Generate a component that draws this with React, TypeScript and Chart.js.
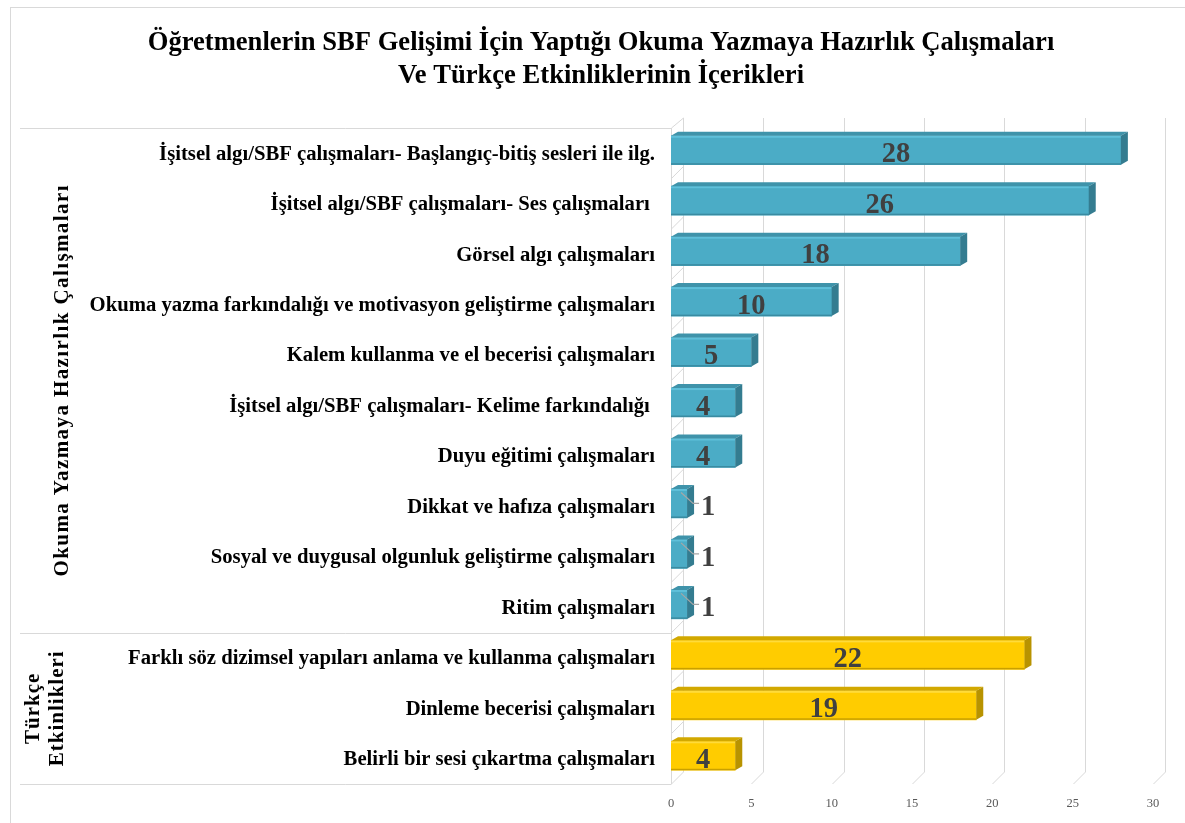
import React, { useEffect, useRef } from "react";
import { Chart, registerables } from "chart.js";

Chart.register(...registerables);

const titleLines = [
  "Öğretmenlerin SBF Gelişimi İçin Yaptığı Okuma Yazmaya Hazırlık Çalışmaları",
  "Ve Türkçe Etkinliklerinin İçerikleri",
];

const categories = [
  "İşitsel algı/SBF çalışmaları- Başlangıç-bitiş sesleri ile ilg.",
  "İşitsel algı/SBF çalışmaları- Ses çalışmaları ",
  "Görsel algı çalışmaları",
  "Okuma yazma farkındalığı ve motivasyon geliştirme çalışmaları",
  "Kalem kullanma ve el becerisi çalışmaları",
  "İşitsel algı/SBF çalışmaları- Kelime farkındalığı ",
  "Duyu eğitimi çalışmaları",
  "Dikkat ve hafıza çalışmaları",
  "Sosyal ve duygusal olgunluk geliştirme çalışmaları",
  "Ritim çalışmaları",
  "Farklı söz dizimsel yapıları anlama ve kullanma çalışmaları",
  "Dinleme becerisi çalışmaları",
  "Belirli bir sesi çıkartma çalışmaları",
];

const values = [28, 26, 18, 10, 5, 4, 4, 1, 1, 1, 22, 19, 4];

const groupLabels = [["Okuma Yazmaya Hazırlık Çalışmaları"], ["Türkçe", "Etkinlikleri"]];
const groupSizes = [10, 3];

const xMin = 0;
const xMax = 30;
const xStep = 5;

const palettes = [
  { front: "#4BACC6", top: "#3F93AA", side: "#347C90", hi: "#5FC0DA", lo: "#3A8BA1" },
  { front: "#FFCC00", top: "#D2A800", side: "#B89300", hi: "#FFDB3A", lo: "#C9A000" },
];

const groupOf = (i: number) => {
  let acc = 0;
  for (let g = 0; g < groupSizes.length; g++) {
    acc += groupSizes[g];
    if (i < acc) return g;
  }
  return groupSizes.length - 1;
};

const SERIF = '"Liberation Serif", "Times New Roman", serif';
const DX = 7;
const DY = 4;
const WALL = 12;

const decorPlugin = {
  id: "decor",
  beforeDraw(chart: any) {
    const ctx = chart.ctx;
    ctx.save();
    ctx.fillStyle = "#ffffff";
    ctx.fillRect(0, 0, chart.width, chart.height);
    ctx.strokeStyle = "#d9d9d9";
    ctx.lineWidth = 1;
    ctx.strokeRect(10.5, 7.5, chart.width + 50, chart.height + 50);
    ctx.fillStyle = "#000000";
    ctx.font = `bold 26.6px ${SERIF}`;
    ctx.textAlign = "center";
    ctx.textBaseline = "middle";
    ctx.fillText(titleLines[0], 601, 43);
    ctx.fillText(titleLines[1], 601, 76);
    ctx.restore();
  },
  beforeDatasetsDraw(chart: any) {
    const ctx = chart.ctx;
    const xs = chart.scales.x;
    const ys = chart.scales.y;
    const area = chart.chartArea;
    ctx.save();
    ctx.strokeStyle = "#d9d9d9";
    ctx.lineWidth = 1;
    const topBack = area.top - 7;
    const botFront = area.bottom + 3;
    const botBack = botFront - WALL;
    for (let v = xMin; v <= xMax; v += xStep) {
      const xf = Math.round(xs.getPixelForValue(v)) + 0.5;
      const xb = xf + WALL;
      ctx.beginPath();
      ctx.moveTo(xb, topBack);
      ctx.lineTo(xb, botBack);
      ctx.lineTo(xf, botFront);
      ctx.stroke();
    }
    const x0 = Math.round(area.left) + 0.5;
    ctx.beginPath();
    ctx.moveTo(x0, area.top + 3);
    ctx.lineTo(x0, botFront);
    ctx.moveTo(x0, area.top + 3);
    ctx.lineTo(x0 + WALL, topBack);
    ctx.stroke();
    const n = categories.length;
    const band = (ys.getPixelForValue(n - 1) - ys.getPixelForValue(0)) / (n - 1);
    for (let i = 1; i < n; i++) {
      const b = ys.getPixelForValue(i) - band / 2 + 3;
      ctx.beginPath();
      ctx.moveTo(x0, b);
      ctx.lineTo(x0 + WALL, b - WALL);
      ctx.stroke();
    }
    let acc = 0;
    const bounds = [area.top + 3];
    for (let g = 0; g < groupSizes.length; g++) {
      acc += groupSizes[g];
      bounds.push(ys.getPixelForValue(acc - 1) + band / 2 + 3);
    }
    bounds.forEach((b) => {
      const yy = Math.round(b) + 0.5;
      ctx.beginPath();
      ctx.moveTo(20, yy);
      ctx.lineTo(x0, yy);
      ctx.stroke();
    });
    ctx.fillStyle = "#000000";
    ctx.font = `bold 21px ${SERIF}`;
    ctx.textAlign = "center";
    ctx.textBaseline = "middle";
    const centersX = [63, 46];
    groupLabels.forEach((lines, g) => {
      const cy = (bounds[g] + bounds[g + 1]) / 2;
      ctx.save();
      ctx.translate(centersX[g], cy);
      ctx.rotate(-Math.PI / 2);
      try {
        (ctx as any).letterSpacing = g === 0 ? "1.4px" : "1px";
      } catch (e) {}
      const lh = 24;
      lines.forEach((t, k) => {
        ctx.fillText(t, 0, (k - (lines.length - 1) / 2) * lh);
      });
      ctx.restore();
    });
    ctx.restore();
  },
  afterDatasetsDraw(chart: any) {
    const ctx = chart.ctx;
    const meta = chart.getDatasetMeta(0);
    ctx.save();
    meta.data.forEach((el: any, i: number) => {
      const p = el.getProps(["x", "y", "base", "height"], true);
      const pal = palettes[groupOf(i)];
      const top = p.y - p.height / 2;
      const bot = p.y + p.height / 2;
      const l = p.base;
      const r = p.x;
      ctx.fillStyle = pal.hi;
      ctx.fillRect(l, top, r - l, 2);
      ctx.fillStyle = pal.lo;
      ctx.fillRect(l, bot - 1.5, r - l, 1.5);
      ctx.fillStyle = pal.top;
      ctx.beginPath();
      ctx.moveTo(l, top);
      ctx.lineTo(r, top);
      ctx.lineTo(r + DX, top - DY);
      ctx.lineTo(l + DX, top - DY);
      ctx.closePath();
      ctx.fill();
      ctx.fillStyle = pal.side;
      ctx.beginPath();
      ctx.moveTo(r, top);
      ctx.lineTo(r + DX, top - DY);
      ctx.lineTo(r + DX, bot - DY);
      ctx.lineTo(r, bot);
      ctx.closePath();
      ctx.fill();
    });
    ctx.font = `bold 28.5px ${SERIF}`;
    ctx.fillStyle = "#404040";
    ctx.textBaseline = "alphabetic";
    meta.data.forEach((el: any, i: number) => {
      const p = el.getProps(["x", "y", "base", "height"], true);
      const txt = String(values[i]);
      const w = ctx.measureText(txt).width;
      if (p.x - p.base > w + 8) {
        ctx.textAlign = "center";
        ctx.fillText(txt, (p.x + p.base) / 2, p.y + 12);
      } else {
        ctx.strokeStyle = "#a6a6a6";
        ctx.lineWidth = 1.2;
        ctx.beginPath();
        ctx.moveTo(p.x - 6, p.y - 11);
        ctx.lineTo(p.x + 6, p.y);
        ctx.lineTo(p.x + 12, p.y);
        ctx.stroke();
        ctx.textAlign = "left";
        ctx.fillText(txt, p.x + 14, p.y + 12);
      }
    });
    ctx.restore();
  },
};

export default function App() {
  const ref = useRef<HTMLCanvasElement | null>(null);
  useEffect(() => {
    if (!ref.current) return;
    const colors = values.map((_, i) => palettes[groupOf(i)].front);
    const chart = new Chart(ref.current, {
      type: "bar",
      data: {
        labels: categories,
        datasets: [
          {
            data: values,
            backgroundColor: colors,
            borderWidth: 0,
            barThickness: 29,
          },
        ],
      },
      options: {
        indexAxis: "y",
        responsive: false,
        animation: false,
        layout: { padding: { left: 0, right: 32, top: 125, bottom: 0 } },
        plugins: {
          legend: { display: false },
          tooltip: { enabled: false },
          title: { display: false },
        },
        scales: {
          x: {
            min: xMin,
            max: xMax,
            ticks: {
              stepSize: xStep,
              padding: 15,
              color: "#595959",
              font: { family: SERIF, size: 12.5 },
            },
            grid: { display: false, drawTicks: false },
            border: { display: false },
            afterFit: (s: any) => {
              s.height = 42;
            },
          },
          y: {
            ticks: {
              padding: 16,
              labelOffset: 4,
              color: "#000000",
              font: { family: SERIF, size: 20.7, weight: "bold" },
              autoSkip: false,
            },
            grid: { display: false, drawTicks: false },
            border: { display: false },
            afterFit: (s: any) => {
              s.width = 671;
            },
          },
        },
      },
      plugins: [decorPlugin],
    });
    return () => chart.destroy();
  }, []);
  return (
    <div style={{ position: "absolute", left: 0, top: 0, width: 1185, height: 823 }}>
      <canvas ref={ref} width={1185} height={823} style={{ width: 1185, height: 823 }} />
    </div>
  );
}
